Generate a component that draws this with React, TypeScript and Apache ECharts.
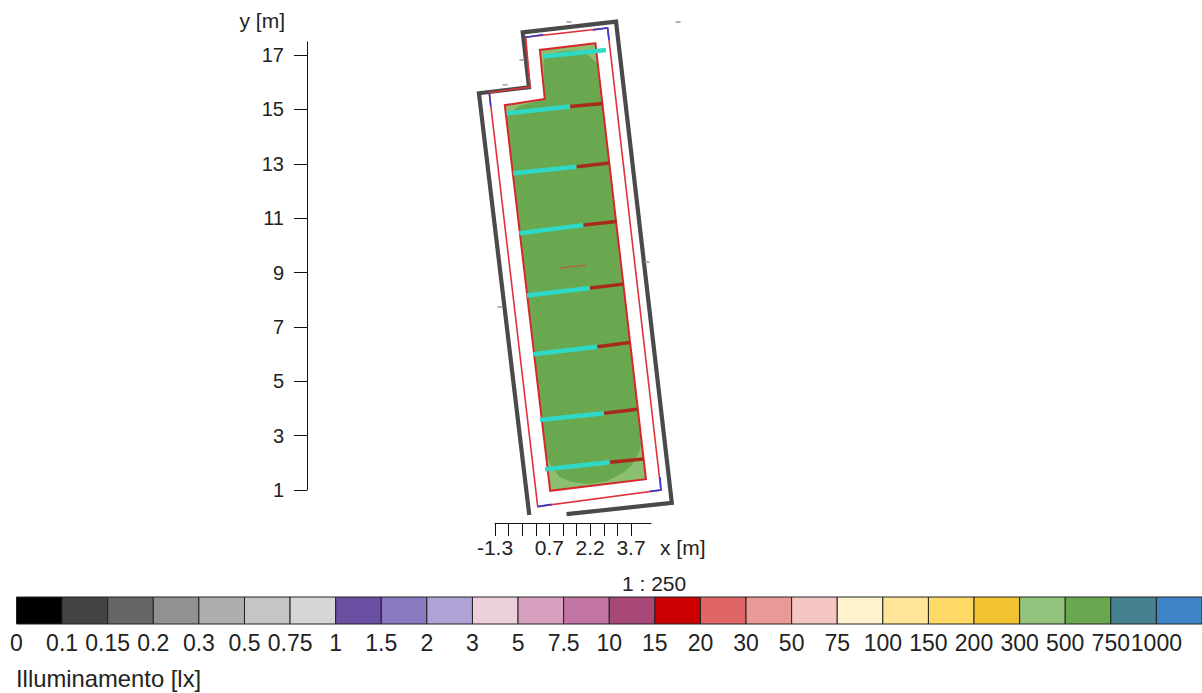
import React, { useEffect, useRef } from "react";
import * as echarts from "echarts";

type Pt = [number, number];

const yTicks = [1, 3, 5, 7, 9, 11, 13, 15, 17];
const xTicks = [-1.3, -0.8, -0.3, 0.2, 0.7, 1.2, 1.7, 2.2, 2.7, 3.2, 3.7];
const xLabels = [-1.3, 0.7, 2.2, 3.7];

const levels = ["0", "0.1", "0.15", "0.2", "0.3", "0.5", "0.75", "1", "1.5", "2", "3", "5", "7.5", "10", "15", "20", "30", "50", "75", "100", "150", "200", "300", "500", "750", "1000"];
const levelColors = ["#000000", "#444444", "#666666", "#919191", "#aeaeae", "#c5c5c5", "#d6d6d6", "#6a4fa3", "#8a78c0", "#b0a2d5", "#ebd0dc", "#d8a0bf", "#c275a3", "#a84878", "#cc0000", "#e06666", "#ea9999", "#f4c7c3", "#fff2cc", "#ffe599", "#ffd966", "#f1c232", "#93c47d", "#6aa84f", "#45818e", "#3d85c6"];

const wall: Pt[] = [[1.33, 0.11], [5.2, 0.53], [3.15, 18.22], [-0.28, 17.83], [-0.05, 15.81], [-1.89, 15.59], [-0.04, 0.08]];
const offsetLine: Pt[] = [[2.84, 17.99], [-0.17, 17.65], [-0.01, 15.82], [-1.51, 15.61], [0.27, 0.39], [4.8, 1.0], [2.84, 17.99]];
const blueParts: Pt[][] = [
  [[2.3, 17.92], [2.84, 17.99], [2.89, 17.55]],
  [[-0.17, 17.65], [0.47, 17.75]],
  [[-1.51, 15.61], [-1.46, 15.1]],
  [[0.27, 0.39], [0.78, 0.47]],
  [[4.77, 1.47], [4.8, 1.0], [4.4, 0.95]],
];
const room: Pt[] = [[2.39, 17.43], [0.35, 17.18], [0.53, 15.38], [-0.94, 15.15], [0.73, 0.97], [4.25, 1.4]];
const isoArea: Pt[] = [[0.48, 16.82], [0.72, 17.0], [1.09, 17.12], [1.7, 17.16], [2.13, 17.0], [2.44, 16.69], [4.09, 2.84], [4.03, 2.47], [3.74, 1.92], [3.41, 1.63], [2.82, 1.33], [2.19, 1.22], [1.53, 1.29], [1.09, 1.48], [0.8, 1.81], [0.58, 2.29], [-0.9, 14.79], [-0.64, 14.94], [-0.41, 15.12], [0.53, 15.38]];
const cyanRuns: Pt[][] = [
  [[0.48, 16.94], [2.78, 17.18]],
  [[-0.87, 14.85], [1.46, 15.1]],
  [[-0.63, 12.65], [1.7, 12.89]],
  [[-0.41, 10.44], [1.95, 10.74]],
  [[-0.13, 8.15], [2.19, 8.43]],
  [[0.11, 5.99], [2.46, 6.27]],
  [[0.35, 3.57], [2.71, 3.82]],
  [[0.54, 1.76], [2.93, 2.02]],
];
const redRuns: Pt[][] = [
  [[1.46, 15.1], [2.66, 15.21]],
  [[1.7, 12.89], [2.9, 13.02]],
  [[1.95, 10.74], [3.17, 10.87]],
  [[2.19, 8.43], [3.42, 8.57]],
  [[2.46, 6.27], [3.66, 6.42]],
  [[2.71, 3.82], [3.93, 3.97]],
  [[2.93, 2.02], [4.15, 2.14]],
];
const centerMark: Pt[] = [[1.09, 9.16], [2.04, 9.27]];
const tinyNotes: Pt[] = [[1.42, 18.21], [5.43, 18.21], [-0.93, 15.9], [-0.31, 16.81], [4.29, 9.38], [-1.12, 7.73]];

const FONT = "Liberation Sans";
const INK = "#222222";

const polygon = (points: Pt[], fill: string, stroke?: string, lineWidth = 0, z = 1) => ({
  type: "custom",
  coordinateSystem: "cartesian2d",
  xAxisIndex: 0,
  yAxisIndex: 0,
  z,
  silent: true,
  data: [points[0]],
  renderItem: (_p: any, api: any) => ({
    type: "polygon",
    shape: { points: points.map((pt) => api.coord(pt)) },
    style: { fill, stroke: stroke ?? "none", lineWidth },
  }),
});

const line = (points: Pt[], color: string, width: number, z: number) => ({
  type: "line",
  xAxisIndex: 0,
  yAxisIndex: 0,
  data: points,
  showSymbol: false,
  clip: false,
  silent: true,
  z,
  lineStyle: { color, width, cap: "butt", join: "miter" },
});

const hiddenAxis = (gridIndex: number, min: number, max: number) => ({ type: "value", gridIndex, min, max, show: false });

export default function App() {
  const ref = useRef<HTMLDivElement>(null);
  useEffect(() => {
    document.body.style.margin = "0";
    const chart = echarts.init(ref.current!, undefined, { renderer: "svg" });
    chart.setOption({
      animation: false,
      backgroundColor: "#ffffff",
      textStyle: { fontFamily: FONT, color: INK },
      title: [
        { text: "1 : 250", left: 622, top: 572, textStyle: { fontFamily: FONT, fontSize: 21, fontWeight: "normal", color: INK, lineHeight: 22 }, padding: 0 },
        { text: "Illuminamento [lx]", left: 16, top: 666, textStyle: { fontFamily: FONT, fontSize: 23.8, fontWeight: "normal", color: INK, lineHeight: 24 }, padding: 0 },
      ],
      grid: [
        { left: 470, top: 10, width: 220, height: 520 },
        { left: 307, top: 42, width: 1, height: 448 },
        { left: 495, top: 522, width: 156, height: 1 },
        { left: 16.5, top: 597, width: 1187, height: 27 },
      ],
      xAxis: [
        hiddenAxis(0, -2.219, 5.869),
        hiddenAxis(1, 0, 1),
        {
          type: "value",
          gridIndex: 2,
          min: -1.3,
          max: 4.435,
          position: "bottom",
          name: "x [m]",
          nameLocation: "end",
          nameGap: 9,
          nameTextStyle: { fontFamily: FONT, fontSize: 21, color: INK, verticalAlign: "top", padding: [14, 0, 0, 0] },
          axisLine: { show: true, onZero: false, lineStyle: { color: "#111111", width: 1 } },
          axisTick: { show: true, length: 13, customValues: xTicks, lineStyle: { color: "#111111", width: 1 } },
          axisLabel: { show: true, customValues: xLabels, margin: 14, fontFamily: FONT, fontSize: 21, color: INK, showMinLabel: true, formatter: (v: number) => v.toFixed(1) },
          splitLine: { show: false },
        },
        {
          type: "value",
          gridIndex: 3,
          min: 0,
          max: 26,
          axisLine: { show: false },
          axisTick: { show: false },
          splitLine: { show: false },
          axisLabel: { show: true, customValues: levels.map((_, i) => i), margin: 7, fontFamily: FONT, fontSize: 23, color: INK, formatter: (v: number) => levels[v] },
        },
      ],
      yAxis: [
        hiddenAxis(0, -0.471, 18.65),
        {
          type: "value",
          gridIndex: 1,
          min: 1,
          max: 17.48,
          position: "left",
          name: "y [m]",
          nameLocation: "end",
          nameGap: 11,
          nameTextStyle: { fontFamily: FONT, fontSize: 21, color: INK, align: "right", padding: [0, 22, 0, 0] },
          axisLine: { show: true, onZero: false, lineStyle: { color: "#111111", width: 1 } },
          axisTick: { show: true, length: 13, customValues: yTicks, lineStyle: { color: "#111111", width: 1 } },
          axisLabel: { show: true, customValues: yTicks, margin: 23, fontFamily: FONT, fontSize: 20, color: INK },
          splitLine: { show: false },
        },
        hiddenAxis(2, 0, 1),
        hiddenAxis(3, 0, 1),
      ],
      series: [
        polygon(room, "#8dbf73", undefined, 0, 1),
        polygon(isoArea, "#6aa84f", undefined, 0, 2),
        polygon(room, "none", "#d9262b", 2, 3),
        line(wall, "#4a4a4a", 4.2, 4),
        line(offsetLine, "#e0323a", 1.6, 5),
        ...blueParts.map((p) => line(p, "#3a3ac8", 1.6, 6)),
        ...cyanRuns.map((p) => line(p, "#2fd9c8", 4.5, 7)),
        ...redRuns.map((p) => line(p, "#a82a1a", 3.5, 7)),
        line(centerMark, "#b5603a", 1.2, 7),
        {
          type: "scatter",
          xAxisIndex: 0,
          yAxisIndex: 0,
          data: tinyNotes,
          symbol: "rect",
          symbolSize: [5, 2],
          silent: true,
          z: 7,
          itemStyle: { color: "#a0a0a0" },
        },
        {
          type: "custom",
          coordinateSystem: "cartesian2d",
          xAxisIndex: 3,
          yAxisIndex: 3,
          silent: true,
          data: levelColors.map((_, i) => [i, 1]),
          renderItem: (params: any, api: any) => {
            const i = params.dataIndex;
            const a = api.coord([i, 1]);
            const b = api.coord([i + 1, 0]);
            return {
              type: "rect",
              shape: { x: a[0], y: a[1], width: b[0] - a[0], height: b[1] - a[1] },
              style: { fill: levelColors[i], stroke: "#222222", lineWidth: 1 },
            };
          },
        },
      ],
    });
    return () => chart.dispose();
  }, []);
  return <div ref={ref} style={{ width: 1202, height: 693 }} />;
}
